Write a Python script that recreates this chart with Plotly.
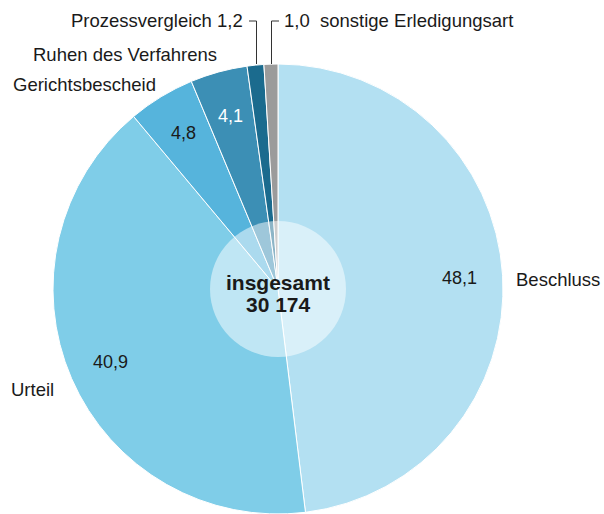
import math
import plotly.graph_objects as go

categories = ["Beschluss", "Urteil", "Gerichtsbescheid", "Ruhen des Verfahrens",
              "Prozessvergleich", "sonstige Erledigungsart"]
values = [48.1, 40.9, 4.8, 4.1, 1.2, 1.0]
value_labels = ["48,1", "40,9", "4,8", "4,1", "1,2", "1,0"]
colors = ["#b3e0f2", "#7fcde8", "#56b4dc", "#3c8fb5", "#1b6b8e", "#9b9b9b"]
total_lines = ["insgesamt", "30 174"]

W, H = 604, 514
CX, CY, R = 278.0, 289.0, 225.0
FONT = "Liberation Sans, Arial, Helvetica, sans-serif"
FS_LAB = 18.5
FS_VAL = 18


def px(x):
    return x / W


def py(y):
    return 1 - y / H


fig = go.Figure()
fig.add_trace(go.Pie(
    labels=categories,
    values=values,
    sort=False,
    direction="clockwise",
    rotation=0,
    textinfo="none",
    hoverinfo="label+value",
    marker=dict(colors=colors, line=dict(color="white", width=1)),
    domain=dict(x=[px(CX - R), px(CX + R)], y=[0, (H - CY + R) / H]),
    showlegend=False,
))

# inner translucent circle
RI = 68
fig.add_shape(type="circle", xref="paper", yref="paper",
              x0=px(CX - RI), x1=px(CX + RI), y0=py(CY + RI), y1=py(CY - RI),
              fillcolor="rgba(255,255,255,0.5)", line=dict(width=0), layer="above")

for txt, yy in zip(total_lines, [CY - 7, CY + 15]):
    fig.add_annotation(x=px(CX), y=py(yy), xref="paper", yref="paper",
                       text="<b>" + txt + "</b>", showarrow=False,
                       font=dict(family=FONT, size=21, color="#1a1a1a"),
                       xanchor="center", yanchor="middle")

# value labels inside the large slices, placed at the slice mid-angle
tot = sum(values)
cum = 0.0
radial = [0.81, 0.81, 0.81, 0.796, None, None]
text_colors = ["#1a1a1a", "#1a1a1a", "#1a1a1a", "white", None, None]
for v, lab, rf, tc in zip(values, value_labels, radial, text_colors):
    mid = (cum + v / 2) / tot * 2 * math.pi
    cum += v
    if rf is None:
        continue
    x = CX + rf * R * math.sin(mid)
    y = CY - rf * R * math.cos(mid)
    fig.add_annotation(x=px(x), y=py(y), xref="paper", yref="paper", text=lab,
                       showarrow=False, font=dict(family=FONT, size=FS_VAL, color=tc),
                       xanchor="center", yanchor="middle")

# category labels outside
outside = [
    ("Beschluss", 514, 279, "left"),
    ("Urteil", 9, 389, "left"),
    ("Gerichtsbescheid", 158, 85, "right"),
    ("Ruhen des Verfahrens", 219, 55, "right"),
    ("Prozessvergleich " + value_labels[4], 245, 21, "right"),
    (value_labels[5] + "  sonstige Erledigungsart", 282, 21, "left"),
]
for txt, x, y, anc in outside:
    fig.add_annotation(x=px(x), y=py(y), xref="paper", yref="paper", text=txt,
                       showarrow=False, font=dict(family=FONT, size=FS_LAB, color="#1a1a1a"),
                       xanchor=anc, yanchor="middle")

# leader lines
leaders = [
    [(249, 21), (256.5, 21), (256.5, 64)],
    [(279, 21), (271.5, 21), (271.5, 64)],
]
for pts in leaders:
    for (x0, y0), (x1, y1) in zip(pts[:-1], pts[1:]):
        fig.add_shape(type="line", xref="paper", yref="paper",
                      x0=px(x0), y0=py(y0), x1=px(x1), y1=py(y1),
                      line=dict(color="#333333", width=1))

fig.update_layout(width=W, height=H, margin=dict(l=0, r=0, t=0, b=0),
                  paper_bgcolor="white", plot_bgcolor="white")
fig.write_html("out.html", config={"displayModeBar": False},
               post_script="document.body.style.margin='0';document.body.style.padding='0';")
